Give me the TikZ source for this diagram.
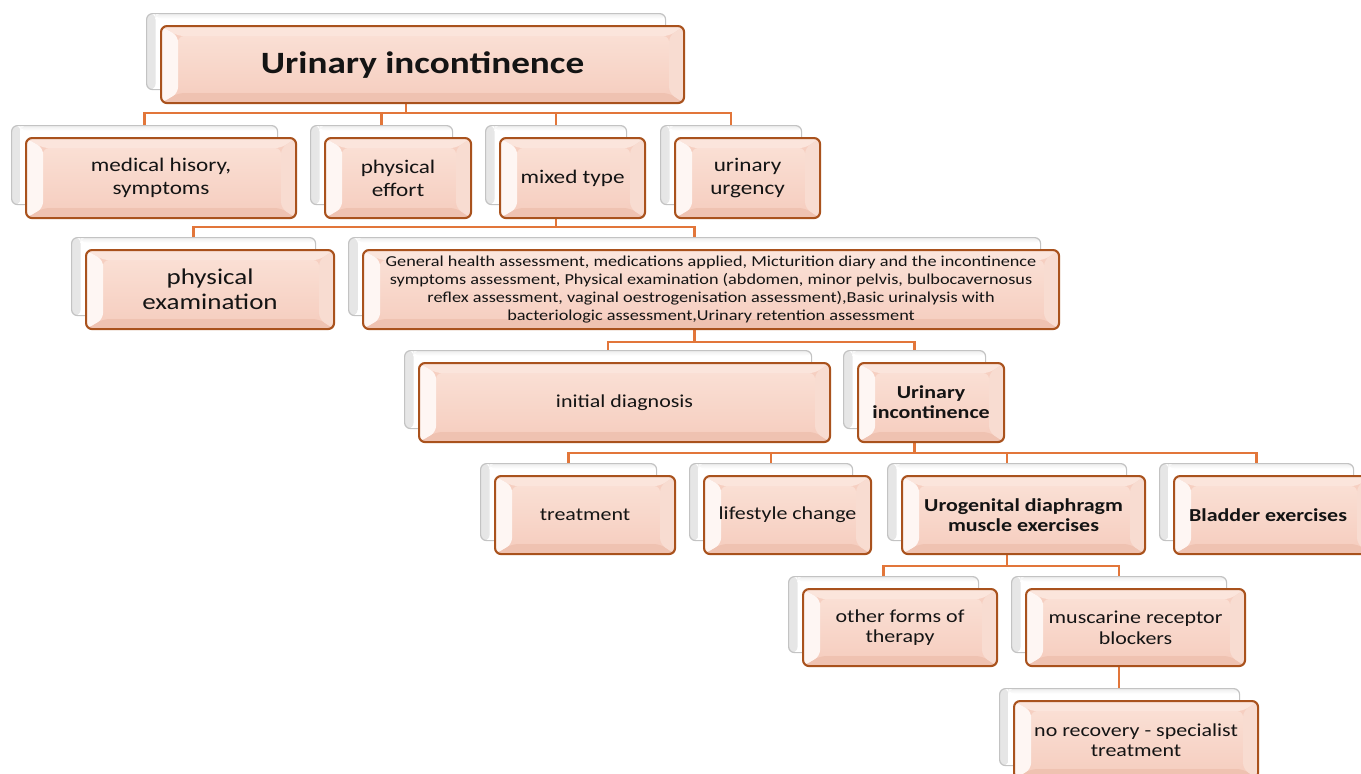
\documentclass[tikz,border=0pt]{standalone}
\usepackage{fontspec}
\setmainfont{Carlito}[FakeStretch=1.2]
\usetikzlibrary{backgrounds,calc}
\definecolor{faceT}{HTML}{FADFD4}
\definecolor{faceB}{HTML}{F6CFC1}
\definecolor{bevL}{HTML}{FEF6F3}
\definecolor{bevT}{HTML}{FBE5DC}
\definecolor{bevR}{HTML}{F8DCD1}
\definecolor{bevB}{HTML}{EFC2B1}
\definecolor{edgec}{HTML}{A9521D}
\definecolor{linkc}{HTML}{E2763A}
\definecolor{shedge}{HTML}{C3C3C3}
\definecolor{txt}{HTML}{141414}
\tikzset{
  mainbox/.style={draw=edgec, line width=2.1pt, rounded corners=6pt, fill=faceB,
    text=txt, align=center, inner sep=0pt,
    path picture={
      \coordinate (pNW) at (path picture bounding box.north west);
      \coordinate (pNE) at (path picture bounding box.north east);
      \coordinate (pSW) at (path picture bounding box.south west);
      \coordinate (pSE) at (path picture bounding box.south east);
      \coordinate (iNW) at ([shift={(17pt,-10pt)}]pNW);
      \coordinate (iNE) at ([shift={(-15pt,-10pt)}]pNE);
      \coordinate (iSW) at ([shift={(17pt,10pt)}]pSW);
      \coordinate (iSE) at ([shift={(-15pt,10pt)}]pSE);
      \shade[top color=faceT, bottom color=faceB] (iNW) rectangle (iSE);
      \fill[bevT] (pNW) -- (pNE) -- (iNE) -- (iNW) -- cycle;
      \fill[bevB] (pSW) -- (pSE) -- (iSE) -- (iSW) -- cycle;
      \fill[bevL] (pNW) -- (iNW) -- (iSW) -- (pSW) -- cycle;
      \fill[bevR] (pNE) -- (iNE) -- (iSE) -- (pSE) -- cycle;
    }},
  shadowbox/.style={draw=shedge, line width=1.2pt, rounded corners=6pt, fill=white, inner sep=0pt,
    path picture={
      \shade[left color=black!10, right color=white]
        (path picture bounding box.north west) rectangle ([xshift=9pt]path picture bounding box.south west);
      \shade[top color=black!7, bottom color=white]
        ([xshift=9pt]path picture bounding box.north west) rectangle ([yshift=-5pt]path picture bounding box.north east);
    }},
  link/.style={draw=linkc, line width=2.7pt},
  fTop/.style={font=\fontsize{31}{34}\selectfont\bfseries},
  fOne/.style={font=\fontsize{19.3}{23}\selectfont},
  fExam/.style={font=\fontsize{22.5}{25}\selectfont},
  fGen/.style={font=\fontsize{15.2}{18}\selectfont},
  fSm/.style={font=\fontsize{18.3}{20.5}\selectfont},
  fSmB/.style={font=\fontsize{18.3}{20}\selectfont\bfseries},
}
% #1 style, #2 name, #3 x1, #4 y1, #5 x2, #6 y2 (main box), #7 text
\newcommand\ubox[7][]{%
  \node[shadowbox, anchor=north west, minimum width={#5-#3-4}, minimum height={#6-#4-1}]
    (s#2) at ({#3-14},{#4-12}) {};
  \node[mainbox, #1, anchor=north west, minimum width={#5-#3}, minimum height={#6-#4}]
    (#2) at (#3,#4) {#7};
}
\begin{document}
\begin{tikzpicture}[x=1pt, y=-1pt]
\useasboundingbox (0,0) rectangle (1361,774);
\clip (0,0) rectangle (1361,774);

\ubox[fTop]{root}{160}{25}{683}{102}{Urinary incontinence}

\ubox[fOne]{med}{25}{137}{295}{217}{medical hisory,\\symptoms}
\ubox[fOne]{eff}{324}{137}{470}{217}{physical\\effort}
\ubox[fOne]{mix}{499}{137}{644}{217}{mixed type}
\ubox[fOne]{urg}{674}{137}{819}{217}{urinary\\urgency}

\ubox[fExam]{exam}{85}{249}{333}{328}{physical\\examination}
\ubox[fGen]{gen}{362}{249}{1058}{328}{General health assessment, medications applied, Micturition diary and the incontinence\\symptoms assessment, Physical examination (abdomen, minor pelvis, bulbocavernosus\\reflex assessment, vaginal oestrogenisation assessment),Basic urinalysis with\\bacteriologic assessment,Urinary retention assessment}

\ubox[fSm]{init}{418}{362}{829}{441}{initial diagnosis}
\ubox[fSmB]{ui}{857}{362}{1003}{441}{Urinary\\incontinence}

\ubox[fSm]{treat}{494}{475}{674}{553}{treatment}
\ubox[fSm]{life}{703}{475}{870}{553}{lifestyle change}
\ubox[fSmB]{uro}{901}{475}{1144}{553}{Urogenital diaphragm\\muscle exercises}
\ubox[fSmB]{blad}{1173}{475}{1371}{553}{\hspace*{-10pt}Bladder exercises}

\ubox[fSm]{other}{802}{588}{996}{665}{other forms of\\therapy}
\ubox[fSm]{musc}{1025}{588}{1244}{665}{muscarine receptor\\blockers}

\ubox[fSm]{norec}{1013}{700}{1257}{778}{no recovery - specialist\\treatment}

\coordinate (bar1) at (0,113);
\coordinate (bar2) at (0,227);
\coordinate (bar3) at (0,342);
\coordinate (bar4) at (0,453);
\coordinate (bar5) at (0,566);

\begin{scope}[on background layer]
  \fill[white] (0,0) rectangle (1361,774);
  \foreach \c in {med,eff,mix,urg}
    \draw[link] (sroot.center) -- (sroot.center |- bar1) -| (s\c.center);
  \foreach \c in {exam,gen}
    \draw[link] (smix.center) -- (smix.center |- bar2) -| (s\c.center);
  \foreach \c in {init,ui}
    \draw[link] (sgen.center) -- (sgen.center |- bar3) -| (s\c.center);
  \foreach \c in {treat,life,uro,blad}
    \draw[link] (sui.center) -- (sui.center |- bar4) -| (s\c.center);
  \foreach \c in {other,musc}
    \draw[link] (suro.center) -- (suro.center |- bar5) -| (s\c.center);
  \draw[link] (smusc.center) -- (smusc.center |- snorec.center);
\end{scope}
\end{tikzpicture}
\end{document}
